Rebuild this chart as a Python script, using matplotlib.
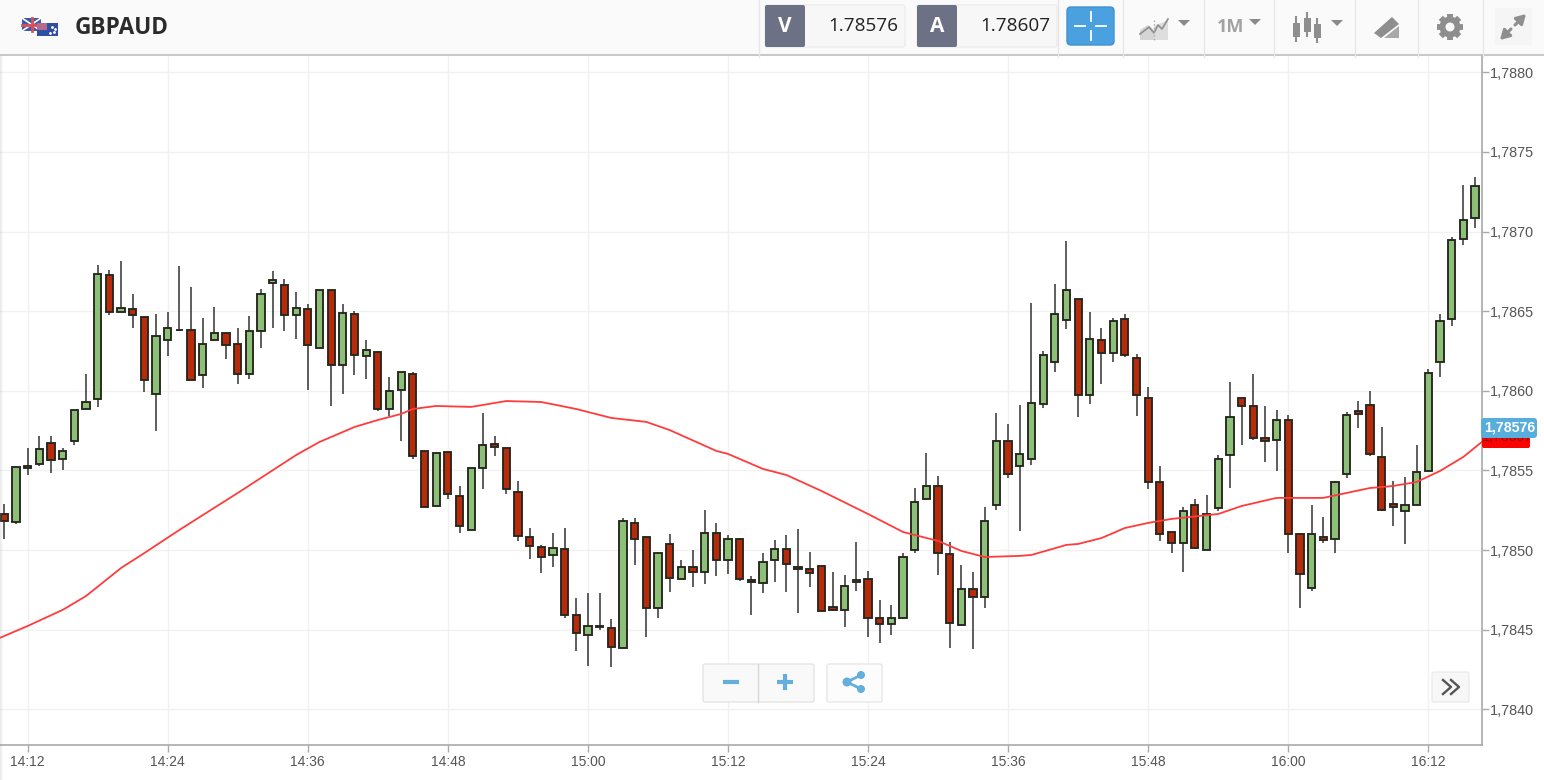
"""GBPAUD one-minute candles with moving average, trading-widget look."""
import matplotlib

matplotlib.use("Agg")
import matplotlib.pyplot as plt
from matplotlib.patches import Circle, FancyBboxPatch, Polygon, Rectangle
import numpy as np

# minutes after 14:00 of the first candle, one candle per minute
first_minute = 10

opens = [
    1.785230, 1.785178, 1.785515, 1.785538, 1.785672, 1.785575, 1.785686, 1.785889, 1.785950, 1.786724,
    1.786494, 1.786515, 1.786464, 1.785979, 1.786316, 1.786381, 1.786381, 1.786098, 1.786316, 1.786366,
    1.786291, 1.786107, 1.786374, 1.786674, 1.786665, 1.786479, 1.786515, 1.786270, 1.786636, 1.786165,
    1.786485, 1.786218, 1.786241, 1.785887, 1.786006, 1.786105, 1.785621, 1.785276, 1.785613, 1.785343,
    1.785128, 1.785517, 1.785665, 1.785640, 1.785364, 1.785082, 1.785021, 1.784969, 1.785006, 1.784594,
    1.784469, 1.784519, 1.784513, 1.784385, 1.785169, 1.785082, 1.784640, 1.785036, 1.784818, 1.784893,
    1.784864, 1.785109, 1.784939, 1.785073, 1.784814, 1.784791, 1.784937, 1.785006, 1.784895, 1.784879,
    1.784902, 1.784642, 1.784626, 1.784797, 1.784818, 1.784573, 1.784538, 1.784573, 1.785000, 1.785318,
    1.785402, 1.784975, 1.784529, 1.784759, 1.784707, 1.785282, 1.785686, 1.785527, 1.785573, 1.785916,
    1.786178, 1.786446, 1.786575, 1.785975, 1.786320, 1.786238, 1.786454, 1.786207, 1.785954, 1.785425,
    1.785111, 1.785044, 1.785282, 1.785004, 1.785266, 1.785596, 1.785954, 1.785902, 1.785701, 1.785692,
    1.785820, 1.785103, 1.784762, 1.785082, 1.785073, 1.785475, 1.785872, 1.785910, 1.785582, 1.785291,
    1.785245, 1.785282, 1.785498, 1.786178, 1.786448, 1.786956, 1.787084,
]
highs = [
    1.785291, 1.785525, 1.785642, 1.785715, 1.785715, 1.785642, 1.785881, 1.786105, 1.786793, 1.786761,
    1.786814, 1.786605, 1.786464, 1.786485, 1.786494, 1.786785, 1.786649, 1.786456, 1.786529, 1.786366,
    1.786395, 1.786469, 1.786640, 1.786755, 1.786703, 1.786619, 1.786544, 1.786636, 1.786636, 1.786544,
    1.786498, 1.786320, 1.786253, 1.786090, 1.786119, 1.786119, 1.785621, 1.785607, 1.785613, 1.785402,
    1.785517, 1.785864, 1.785715, 1.785640, 1.785431, 1.785138, 1.785031, 1.785109, 1.785138, 1.784699,
    1.784728, 1.784728, 1.784571, 1.785199, 1.785199, 1.785082, 1.784983, 1.785100, 1.784937, 1.785004,
    1.785251, 1.785169, 1.785094, 1.785079, 1.784835, 1.784981, 1.785065, 1.785094, 1.785132, 1.784990,
    1.784902, 1.784862, 1.784847, 1.785050, 1.784870, 1.784684, 1.784655, 1.784981, 1.785393, 1.785609,
    1.785467, 1.785050, 1.784908, 1.784862, 1.785274, 1.785864, 1.785789, 1.785908, 1.786550, 1.786249,
    1.786669, 1.786939, 1.786579, 1.786492, 1.786393, 1.786460, 1.786483, 1.786230, 1.786027, 1.785527,
    1.785111, 1.785274, 1.785318, 1.785347, 1.785600, 1.786056, 1.785958, 1.786103, 1.785902, 1.785881,
    1.785849, 1.785107, 1.785282, 1.785211, 1.785437, 1.785870, 1.785939, 1.785998, 1.785774, 1.785437,
    1.785460, 1.785661, 1.786140, 1.786483, 1.786967, 1.787295, 1.787341,
]
lows = [
    1.785067, 1.785165, 1.785471, 1.785531, 1.785485, 1.785502, 1.785657, 1.785887, 1.785897, 1.786479,
    1.786492, 1.786395, 1.785994, 1.785747, 1.786218, 1.786374, 1.786067, 1.786017, 1.786314, 1.786197,
    1.786046, 1.786077, 1.786270, 1.786395, 1.786374, 1.786328, 1.786008, 1.786270, 1.785904, 1.785979,
    1.786098, 1.786075, 1.785874, 1.785841, 1.785686, 1.785575, 1.785270, 1.785276, 1.785322, 1.785105,
    1.785128, 1.785381, 1.785590, 1.785351, 1.785059, 1.784946, 1.784856, 1.784893, 1.784573, 1.784364,
    1.784274, 1.784496, 1.784266, 1.784385, 1.784908, 1.784454, 1.784573, 1.784736, 1.784818, 1.784768,
    1.784789, 1.784835, 1.784849, 1.784805, 1.784594, 1.784728, 1.784803, 1.784736, 1.784603, 1.784768,
    1.784615, 1.784615, 1.784515, 1.784745, 1.784454, 1.784416, 1.784467, 1.784571, 1.784985, 1.785316,
    1.784847, 1.784385, 1.784527, 1.784379, 1.784640, 1.785253, 1.785452, 1.785123, 1.785536, 1.785891,
    1.786117, 1.786387, 1.785833, 1.785916, 1.786044, 1.786178, 1.786215, 1.785843, 1.785387, 1.785059,
    1.784985, 1.784864, 1.785006, 1.785002, 1.785243, 1.785393, 1.785661, 1.785690, 1.785556, 1.785498,
    1.784981, 1.784640, 1.784745, 1.785044, 1.784985, 1.785452, 1.785766, 1.785592, 1.785245, 1.785149,
    1.785036, 1.785282, 1.785498, 1.786090, 1.786404, 1.786918, 1.787023,
]
closes = [
    1.785180, 1.785525, 1.785531, 1.785636, 1.785569, 1.785621, 1.785881, 1.785933, 1.786732, 1.786494,
    1.786517, 1.786479, 1.786067, 1.786345, 1.786397, 1.786383, 1.786067, 1.786293, 1.786366, 1.786287,
    1.786107, 1.786374, 1.786607, 1.786695, 1.786479, 1.786517, 1.786285, 1.786636, 1.786165, 1.786487,
    1.786224, 1.786255, 1.785887, 1.786000, 1.786119, 1.785588, 1.785270, 1.785607, 1.785351, 1.785151,
    1.785517, 1.785663, 1.785649, 1.785385, 1.785088, 1.785027, 1.784954, 1.785015, 1.784596, 1.784477,
    1.784521, 1.784523, 1.784393, 1.785184, 1.785067, 1.784640, 1.784983, 1.784828, 1.784893, 1.784862,
    1.785109, 1.784939, 1.785073, 1.784818, 1.784797, 1.784923, 1.785006, 1.784910, 1.784879, 1.784858,
    1.784617, 1.784623, 1.784774, 1.784814, 1.784573, 1.784538, 1.784573, 1.784954, 1.785303, 1.785402,
    1.784983, 1.784544, 1.784759, 1.784709, 1.785184, 1.785686, 1.785477, 1.785605, 1.785925, 1.786224,
    1.786485, 1.786634, 1.785975, 1.786328, 1.786238, 1.786441, 1.786222, 1.785975, 1.785425, 1.785103,
    1.785044, 1.785245, 1.785013, 1.785230, 1.785573, 1.785835, 1.785902, 1.785707, 1.785684, 1.785820,
    1.785103, 1.784849, 1.785103, 1.785065, 1.785425, 1.785849, 1.785856, 1.785603, 1.785253, 1.785274,
    1.785282, 1.785492, 1.786111, 1.786441, 1.786948, 1.787075, 1.787284,
]

ma_minutes = [
    9, 12, 15, 17, 20, 22, 25, 30, 35, 37, 40, 42, 44, 45, 47, 50, 53, 56, 59, 62,
    65, 67, 71, 72, 75, 77, 80, 84, 87, 90, 92, 94, 97, 98, 101, 102, 104, 106, 108, 110,
    114, 116, 119, 123, 125, 127, 129, 131, 133, 135, 137,
]
ma_values = [
    1.784430, 1.784524, 1.784625, 1.784712, 1.784888, 1.784982, 1.785127, 1.785359, 1.785597, 1.785679,
    1.785773, 1.785817, 1.785855, 1.785886, 1.785905, 1.785899, 1.785936, 1.785930, 1.785886, 1.785830,
    1.785805, 1.785754, 1.785623, 1.785604, 1.785510, 1.785472, 1.785372, 1.785227, 1.785114, 1.785058,
    1.784995, 1.784957, 1.784964, 1.784970, 1.785033, 1.785039, 1.785076, 1.785139, 1.785171, 1.785196,
    1.785227, 1.785277, 1.785328, 1.785328, 1.785359, 1.785390, 1.785403, 1.785428, 1.785497, 1.785585,
    1.785704,
]

time_ticks = [12, 24, 36, 48, 60, 72, 84, 96, 108, 120, 132]
time_labels = ["14:12", "14:24", "14:36", "14:48", "15:00", "15:12", "15:24", "15:36", "15:48", "16:00", "16:12"]
price_ticks = [1.7840, 1.7845, 1.7850, 1.7855, 1.7860, 1.7865, 1.7870, 1.7875, 1.7880]
price_labels = ["1,7840", "1,7845", "1,7850", "1,7855", "1,7860", "1,7865", "1,7870", "1,7875", "1,7880"]

UP = "#8CC077"
DOWN = "#B72A0A"
EDGE = "#26261F"
ICON = "#8E8E8E"
BLUE = "#64AEDC"
W, H = 1544, 780

plt.rcParams["font.family"] = ["Liberation Sans", "DejaVu Sans"]
fig = plt.figure(figsize=(W / 100, H / 100), dpi=100, facecolor="white")

# chart area, pixel box 0..1482 x 55..745
ax = fig.add_axes([0, 1 - 745 / H, 1482 / W, 690 / H])
ax.set_xlim(9.63, 136.6)
ax.set_ylim(1.783777, 1.788108)
ax.grid(True, color="#F1F1F1", linewidth=1)
ax.set_axisbelow(True)
for side in ("top", "left"):
    ax.spines[side].set_visible(False)
for side in ("right", "bottom"):
    ax.spines[side].set_color("#A9A9A9")
    ax.spines[side].set_linewidth(1.2)

minutes = np.arange(first_minute, first_minute + len(opens))
o, h, l, c = map(np.array, (opens, highs, lows, closes))
colors = [UP if close >= op else DOWN for op, close in zip(o, c)]
ax.vlines(minutes, l, h, color="#333333", linewidth=1.1, zorder=2)
ax.bar(minutes, np.abs(c - o), bottom=np.minimum(o, c), width=0.62, color=colors,
       edgecolor=EDGE, linewidth=1.35, zorder=3)
ax.plot(ma_minutes, ma_values, color="#FF3C3C", linewidth=1.3, zorder=4)

ax.yaxis.tick_right()
ax.set_yticks(price_ticks, price_labels)
ax.set_xticks(time_ticks, time_labels)
ax.tick_params(axis="y", length=5, width=1, color="#A9A9A9", labelcolor="#555555", labelsize=10.4, pad=1)
ax.tick_params(axis="x", length=5, width=1, color="#A9A9A9", labelcolor="#555555", labelsize=10, pad=2)

# widget chrome is laid out in plain pixels
ui = fig.add_axes([0, 0, 1, 1], zorder=5)
ui.set_xlim(0, W)
ui.set_ylim(H, 0)
ui.axis("off")


def box(x0, y0, x1, y1, face, edge="none", radius=2, lw=1, **kw):
    patch = FancyBboxPatch((x0 + radius, y0 + radius), x1 - x0 - 2 * radius, y1 - y0 - 2 * radius,
                           boxstyle=f"round,pad={radius},rounding_size={radius}",
                           facecolor=face, edgecolor=edge, linewidth=lw, **kw)
    ui.add_patch(patch)


def triangle(x, y, size=6, color="#8A8A8A"):
    ui.add_patch(Polygon([(x - size, y - 3), (x + size, y - 3), (x, y + 3)], color=color, lw=0))


# left edge shade
for i, alpha in enumerate((0.16, 0.10, 0.05)):
    ui.add_patch(Rectangle((i, 55), 1, 725, color="#888888", alpha=alpha, lw=0))

# header
ui.add_patch(Rectangle((0, 0), W, 54, color="#FAFAFA", lw=0))
ui.plot([0, W], [54.5, 54.5], color="#BDBDBD", lw=1.2)
for x in (759, 1058, 1123, 1204, 1274, 1355, 1418, 1483):
    ui.plot([x, x], [0, 57], color="#E6E6E6", lw=1)

# flags
ui.add_patch(Rectangle((22, 18), 19, 13, color="#3D5AA8", lw=0))
ui.plot([22, 41], [18, 31], color="white", lw=1.2)
ui.plot([22, 41], [31, 18], color="white", lw=1.2)
ui.plot([31.5, 31.5], [18, 31], color="#D9505A", lw=2)
ui.plot([22, 41], [24.5, 24.5], color="#D9505A", lw=2)
ui.add_patch(Rectangle((37, 23), 21, 13, color="#2F4FA5", lw=0, zorder=3))
ui.add_patch(Rectangle((37, 23), 10, 6.5, color="#B56A8A", lw=0, zorder=3))
ui.plot([52, 54, 50, 55], [27, 32, 33, 29], "o", color="white", ms=1, zorder=4)

ui.text(75, 28, "GBPAUD", family="Open Sans", weight="bold", fontsize=16.3, color="#2B2B2B", va="center")

for x0, letter, value in ((765, "V", "1.78576"), (917, "A", "1.78607")):
    box(x0, 5, x0 + 140, 47, "#F7F7F7", "#EDEDED")
    box(x0, 5, x0 + 40, 47, "#6D7186")
    ui.text(x0 + 20, 26.5, letter, family="Open Sans", weight="bold", fontsize=15, color="white",
            ha="center", va="center")
    ui.text(x0 + 133, 26, value, family="Open Sans", fontsize=13.6, color="#222222", ha="right", va="center")

box(1067, 7, 1114, 45, "#4BA1E0", "#3F92CE", radius=4)
for (xa, ya), (xb, yb) in (((1090.5, 12), (1090.5, 21)), ((1090.5, 31), (1090.5, 40)),
                           ((1075, 26), (1085, 26)), ((1096, 26), (1106, 26))):
    ui.plot([xa, xb], [ya, yb], color="white", lw=1.3)

# chart type icon
ui.add_patch(Polygon([(1140, 40), (1140, 30), (1148, 25), (1154, 30), (1154, 40)], color="#D5D5D5", lw=0))
ui.add_patch(Polygon([(1154, 40), (1154, 26), (1168, 20), (1168, 40)], color="#DEDEDE", lw=0))
ui.plot([1140, 1149, 1154, 1158, 1162, 1168], [34, 27, 33, 25, 29, 19], color="#8E8E8E", lw=1.2)
ui.plot([1154, 1154], [20, 42], color="#AAAAAA", lw=1, ls=":")
triangle(1184, 23)
ui.text(1217, 27, "1M", family="Open Sans", weight="bold", fontsize=13, color="#A2A2A2", va="center")
triangle(1255, 22)

# candle icon
for x, top, bot, y0, y1 in ((1296, 23, 37, 17, 41), (1307, 18, 32, 13, 36), (1317, 24, 38, 19, 42)):
    ui.plot([x, x], [y0, y1], color=ICON, lw=1.5)
    ui.add_patch(Rectangle((x - 3.5, top), 7, bot - top, color=ICON, lw=0))
triangle(1337, 23)

# pencil icon
ui.add_patch(Polygon([(1374, 33), (1392, 17), (1399, 24), (1381, 38)], color=ICON, lw=0))
ui.add_patch(Polygon([(1384, 38), (1399, 38), (1399, 26)], color="#A8A8A8", lw=0))

# gear
for angle in np.arange(0, 360, 45):
    rad = np.radians(angle)
    ui.plot([1450, 1450 + 13 * np.cos(rad)], [27, 27 + 13 * np.sin(rad)], color=ICON, lw=4.2,
            solid_capstyle="butt")
ui.add_patch(Circle((1450, 27), 10.5, color=ICON, lw=0, zorder=3))
ui.add_patch(Circle((1450, 27), 4.5, color="#FAFAFA", lw=0, zorder=4))

# expand arrows
ui.add_patch(Rectangle((1495, 8), 37, 37, color="#F5F5F5", lw=0))
for start, end in (((1515, 25), (1526, 14)), ((1511, 29), (1500, 40))):
    ui.annotate("", xy=end, xytext=start,
                arrowprops=dict(arrowstyle="-|>,head_width=0.32,head_length=0.55", color=ICON, lw=2.2,
                                shrinkA=0, shrinkB=0))

# zoom and share buttons
box(703, 664, 814, 702, "#F9F9F9", "#E4E4E4")
ui.plot([757.5, 757.5], [664, 702], color="#D6D6D6", lw=1)
ui.plot([723, 739], [682, 682], color=BLUE, lw=3, solid_capstyle="butt")
ui.plot([777, 793], [682, 682], color=BLUE, lw=3, solid_capstyle="butt")
ui.plot([785, 785], [674, 690], color=BLUE, lw=3, solid_capstyle="butt")
box(827, 664, 882, 702, "#FCFCFC", "#E8E8E8")
for a, b in (((847, 682), (861, 675)), ((847, 682), (861, 689))):
    ui.plot([a[0], b[0]], [a[1], b[1]], color=BLUE, lw=2)
for x, y, r in ((847, 682, 4.5), (861, 675, 4), (861, 689, 4)):
    ui.add_patch(Circle((x, y), r, color=BLUE, lw=0, zorder=3))

box(1432, 672, 1469, 702, "#F7F7F7", "#EBEBEB")
for dx in (0, 8):
    ui.plot([1443 + dx, 1451 + dx, 1443 + dx], [680, 687, 694], color="#555555", lw=1.7)

# last price labels, the ask label sits half hidden under the bid label
box(1482, 431, 1530, 448, "#FF0000", radius=2, zorder=6)
ui.text(1507, 437, "1,78607", color="#7A1010", fontsize=10.2, ha="center", va="center", zorder=7)
box(1481, 418, 1537, 438, "#57AEDD", radius=3, zorder=8)
ui.text(1510, 428, "1,78576", color="white", weight="bold", fontsize=10.2, ha="center", va="center", zorder=9)

fig.savefig("out.png", dpi=100)
plt.close(fig)
